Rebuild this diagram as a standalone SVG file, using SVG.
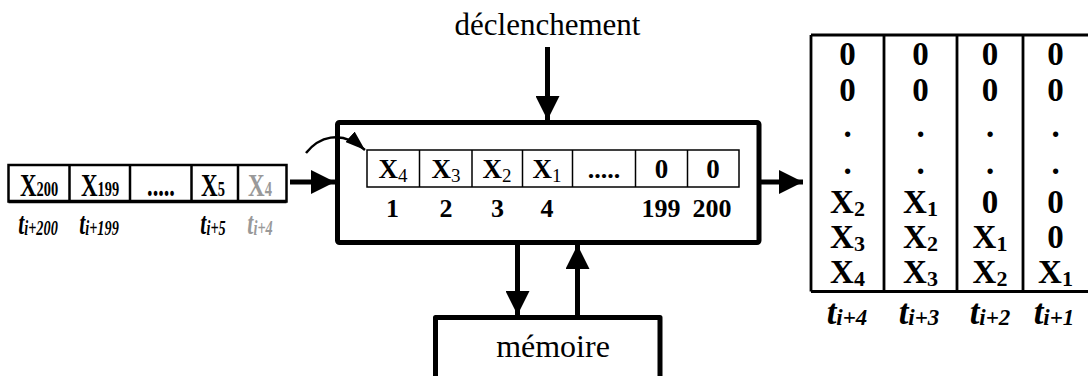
<svg xmlns="http://www.w3.org/2000/svg" width="1088" height="376" viewBox="0 0 1088 376">
<style>
.t{font-family:"Liberation Serif","Times New Roman",serif;fill:#000}
.b{font-weight:bold}
.i{font-style:italic}
.m{text-anchor:middle}
.g{fill:#999}
.thick{fill:none;stroke:#000;stroke-width:5;stroke-linejoin:round}
.thin{fill:none;stroke:#000;stroke-width:1.5}
.mid{fill:none;stroke:#000;stroke-width:2.5}
.tbl{fill:none;stroke:#000;stroke-width:2.8}
.arr{fill:none;stroke:#000;stroke-width:5;marker-end:url(#head)}
</style>
<defs>
<marker id="head" markerUnits="userSpaceOnUse" viewBox="0 0 24 24" refX="24" refY="12" markerWidth="24" markerHeight="24" orient="auto">
<path d="M0,0 L24,12 L0,24 Z" fill="#000"/>
</marker>
<marker id="small" markerUnits="userSpaceOnUse" viewBox="0 0 20 14" refX="20" refY="7" markerWidth="20" markerHeight="14" orient="auto">
<path d="M0,0 L20,7 L0,14 Z" fill="#000"/>
</marker>
</defs>
<rect width="1088" height="376" fill="#fff"/>

<g id="input-array">
<rect class="mid" x="8.5" y="165" width="278" height="36.5"/>
<path class="mid" d="M69.5,165V201.5M130,165V201.5M191.5,165V201.5M238,165V201.5"/>
<path d="M8.5,201.5H286.5" stroke="#000" stroke-width="3.5"/>
<text class="t b m" font-size="32" transform="translate(39,196) scale(0.72,1)">X<tspan font-size="20">200</tspan></text>
<text class="t b m" font-size="32" transform="translate(100,196) scale(0.72,1)">X<tspan font-size="20">199</tspan></text>
<text class="t b m" font-size="31" transform="translate(161,196) scale(0.72,1)">.....</text>
<text class="t b m" font-size="32" transform="translate(213,196) scale(0.72,1)">X<tspan font-size="20">5</tspan></text>
<text class="t b m g" font-size="32" transform="translate(260,196) scale(0.72,1)">X<tspan font-size="20">4</tspan></text>
<text class="t b i m" font-size="32" transform="translate(38,234) scale(0.68,1)">t<tspan font-size="21" dy="1">i+200</tspan></text>
<text class="t b i m" font-size="32" transform="translate(99,234) scale(0.68,1)">t<tspan font-size="21" dy="1">i+199</tspan></text>
<text class="t b i m" font-size="32" transform="translate(213,234) scale(0.68,1)">t<tspan font-size="21" dy="1">i+5</tspan></text>
<text class="t b i m g" font-size="32" transform="translate(260,234) scale(0.68,1)">t<tspan font-size="21" dy="1">i+4</tspan></text>
</g>

<g id="processor">
<rect class="thick" x="337.5" y="122.5" width="421.5" height="120" rx="2"/>
<rect class="thin" x="367" y="150" width="372" height="37"/>
<path class="thin" d="M419.5,150V187M472,150V187M522.5,150V187M572.5,150V187M635.5,150V187M687.5,150V187"/>
<text class="t b m" font-size="27" x="393" y="178">X<tspan font-size="19" font-weight="normal" dy="4">4</tspan></text>
<text class="t b m" font-size="27" x="446" y="178">X<tspan font-size="19" font-weight="normal" dy="4">3</tspan></text>
<text class="t b m" font-size="27" x="497" y="178">X<tspan font-size="19" font-weight="normal" dy="4">2</tspan></text>
<text class="t b m" font-size="27" x="547" y="178">X<tspan font-size="19" font-weight="normal" dy="4">1</tspan></text>
<text class="t b m" font-size="26" x="604" y="178">.....</text>
<text class="t b m" font-size="27" x="661.5" y="178">0</text>
<text class="t b m" font-size="27" x="713" y="178">0</text>
<text class="t b m" font-size="26" x="392.5" y="217">1</text>
<text class="t b m" font-size="26" x="446" y="217">2</text>
<text class="t b m" font-size="26" x="497.5" y="217">3</text>
<text class="t b m" font-size="26" x="547" y="217">4</text>
<text class="t b m" font-size="26" x="661" y="217">199</text>
<text class="t b m" font-size="26" x="712" y="217">200</text>
</g>

<g id="trigger">
<text class="t m" font-size="31" x="547.5" y="35">déclenchement</text>
</g>

<g id="memory">
<rect class="thick" x="435.5" y="317.5" width="224.5" height="80"/>
<text class="t m" font-size="32" x="553" y="357">mémoire</text>
</g>

<g id="output-table">
<path class="tbl" d="M811,35V291.5M884,35V291.5M957,35V291.5M1023,35V291.5M811,35H1090M811,291.5H1090"/>
<g class="t b m" font-size="33">
<text x="847.5" y="65">0</text><text x="920.5" y="65">0</text><text x="990" y="65">0</text><text x="1055.5" y="65">0</text>
<text x="847.5" y="101">0</text><text x="920.5" y="101">0</text><text x="990" y="101">0</text><text x="1055.5" y="101">0</text>
<text x="847.5" y="137">.</text><text x="920.5" y="137">.</text><text x="990" y="137">.</text><text x="1055.5" y="137">.</text>
<text x="847.5" y="174">.</text><text x="920.5" y="174">.</text><text x="990" y="174">.</text><text x="1055.5" y="174">.</text>
<text x="847.5" y="213">X<tspan font-size="22" dy="3">2</tspan></text>
<text x="920.5" y="213">X<tspan font-size="22" dy="3">1</tspan></text>
<text x="990" y="213">0</text>
<text x="1055.5" y="213">0</text>
<text x="847.5" y="248">X<tspan font-size="22" dy="3">3</tspan></text>
<text x="920.5" y="248">X<tspan font-size="22" dy="3">2</tspan></text>
<text x="990" y="248">X<tspan font-size="22" dy="3">1</tspan></text>
<text x="1055.5" y="248">0</text>
<text x="847.5" y="283">X<tspan font-size="22" dy="3">4</tspan></text>
<text x="920.5" y="283">X<tspan font-size="22" dy="3">3</tspan></text>
<text x="990" y="283">X<tspan font-size="22" dy="3">2</tspan></text>
<text x="1055.5" y="283">X<tspan font-size="22" dy="3">1</tspan></text>
</g>
<g class="t b i m" font-size="35">
<text x="847" y="324">t<tspan font-size="23" dy="1">i+4</tspan></text>
<text x="919" y="324">t<tspan font-size="23" dy="1">i+3</tspan></text>
<text x="990" y="324">t<tspan font-size="23" dy="1">i+2</tspan></text>
<text x="1054" y="324">t<tspan font-size="23" dy="1">i+1</tspan></text>
</g>
</g>

<g id="connectors">
<line class="arr" x1="547.5" y1="47" x2="547.5" y2="120"/>
<line class="arr" x1="290" y1="182" x2="335" y2="182"/>
<line class="arr" x1="759" y1="182" x2="803" y2="182"/>
<line class="arr" x1="517.5" y1="245" x2="517.5" y2="315"/>
<line class="arr" x1="577.5" y1="315" x2="577.5" y2="245"/>
<path d="M306,153 C318,138 340,128 365,150" fill="none" stroke="#000" stroke-width="2.5" marker-end="url(#small)"/>
</g>
</svg>
